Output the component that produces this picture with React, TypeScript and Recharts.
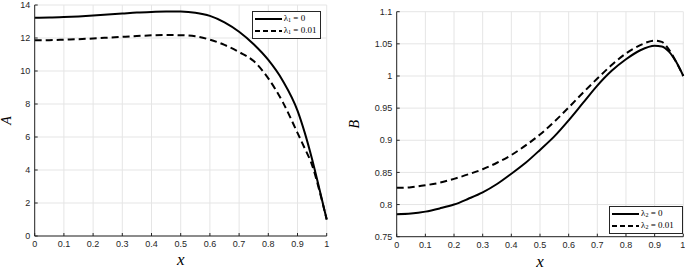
import React from "react";
import { LineChart, Line, XAxis, YAxis, CartesianGrid, Legend } from "recharts";

// sample positions along x
const xs = [0, 0.05, 0.1, 0.15, 0.2, 0.25, 0.3, 0.35, 0.4, 0.45, 0.5, 0.55, 0.6, 0.65, 0.7, 0.75, 0.8, 0.85, 0.9, 0.925, 0.95, 0.975, 1];

// A(x), lambda1 = 0 and lambda1 = 0.01
const aZero = [13.23, 13.24, 13.27, 13.31, 13.36, 13.42, 13.48, 13.54, 13.58, 13.61, 13.6, 13.53, 13.34, 12.95, 12.38, 11.62, 10.67, 9.4, 7.6, 6.25, 4.65, 2.85, 1.0];
const aSmall = [11.86, 11.87, 11.9, 11.93, 11.97, 12.02, 12.07, 12.12, 12.16, 12.18, 12.17, 12.1, 11.9, 11.58, 11.15, 10.6, 9.55, 8.1, 6.25, 5.3, 4.3, 2.75, 1.0];

// B(x), lambda2 = 0 and lambda2 = 0.01
const bZero = [0.785, 0.786, 0.789, 0.794, 0.8, 0.809, 0.819, 0.832, 0.848, 0.865, 0.885, 0.906, 0.931, 0.958, 0.985, 1.008, 1.026, 1.04, 1.047, 1.046, 1.038, 1.022, 1.0];
const bSmall = [0.826, 0.827, 0.83, 0.834, 0.84, 0.847, 0.855, 0.865, 0.877, 0.892, 0.909, 0.929, 0.951, 0.974, 0.996, 1.017, 1.035, 1.048, 1.055, 1.053, 1.041, 1.022, 1.0];

const xTicks = [0, 0.1, 0.2, 0.3, 0.4, 0.5, 0.6, 0.7, 0.8, 0.9, 1];
const aTicks = [0, 2, 4, 6, 8, 10, 12, 14];
const bTicks = [0.75, 0.8, 0.85, 0.9, 0.95, 1, 1.05, 1.1];

const aLegend = ["1", "1"];
const bLegend = ["2", "2"];
const legendValues = ["0", "0.01"];

const dataA = xs.map((x, i) => ({ x, zero: aZero[i], small: aSmall[i] }));
const dataB = xs.map((x, i) => ({ x, zero: bZero[i], small: bSmall[i] }));

const ink = "#262626";
const tickStyle = { fontFamily: '"Liberation Sans", Arial, sans-serif', fontSize: 9, fill: ink };
const serif = '"Liberation Serif", "Times New Roman", serif';

const LegendBox = ({ subs, width }: { subs: string[]; width: number }) => (
  <div
    style={{
      width,
      boxSizing: "border-box",
      border: `1px solid ${ink}`,
      background: "#fff",
      padding: "1px 2px",
      fontFamily: serif,
      fontSize: 9,
      lineHeight: "10px",
      color: "#000",
    }}
  >
    {legendValues.map((v, i) => (
      <div key={i} style={{ display: "flex", alignItems: "center", whiteSpace: "nowrap" }}>
        <svg width={27} height={6} style={{ flex: "none" }}>
          <line x1={0} y1={3} x2={27} y2={3} stroke="#000" strokeWidth={2} strokeDasharray={i ? "5 3" : undefined} />
        </svg>
        <span style={{ marginLeft: 2 }}>
          λ<sub style={{ fontSize: 6, verticalAlign: "-1px" }}>{subs[i]}</sub> = {v}
        </span>
      </div>
    ))}
  </div>
);

const yLabel = (text: string, dx: number) => (props: any) => {
  const vb = props.viewBox;
  const x = vb.x + dx;
  const y = vb.y + vb.height / 2;
  return (
    <text x={x} y={y} transform={`rotate(-90 ${x} ${y})`} textAnchor="middle" fontFamily={serif} fontStyle="italic" fontSize={14} fill="#000">
      {text}
    </text>
  );
};

const xLabel = (dy: number) => (props: any) => {
  const vb = props.viewBox;
  return (
    <text x={vb.x + vb.width / 2} y={vb.y + dy} textAnchor="middle" fontFamily={serif} fontStyle="italic" fontSize={17} fill="#000">
      x
    </text>
  );
};

const fmt = (v: number) => String(v);

export default function App() {
  return (
    <div style={{ position: "absolute", left: 0, top: 0, width: 685, height: 270, background: "#fff" }}>
      <div style={{ position: "absolute", left: 0, top: 0 }}>
        <LineChart width={340} height={270} data={dataA} margin={{ top: 5, right: 13.3, left: 4.7, bottom: 0 }}>
          <CartesianGrid stroke="#e5e5e5" />
          <XAxis
            dataKey="x"
            type="number"
            domain={[0, 1]}
            ticks={xTicks}
            tickFormatter={fmt}
            height={34}
            tick={tickStyle}
            tickSize={-3}
            tickMargin={8}
            stroke={ink}
            label={xLabel(28.5)}
          />
          <YAxis
            type="number"
            domain={[0, 14]}
            ticks={aTicks}
            width={30}
            tick={tickStyle}
            tickSize={-3}
            tickMargin={7.5}
            stroke={ink}
            label={yLabel("A", 6.5)}
          />
          <Line dataKey="zero" type="monotone" stroke="#000" strokeWidth={2} dot={false} isAnimationActive={false} />
          <Line dataKey="small" type="monotone" stroke="#000" strokeWidth={2} strokeDasharray="7 4" dot={false} isAnimationActive={false} />
          <Legend
            verticalAlign="middle"
            align="center"
            wrapperStyle={{ left: 251.7, top: 11, width: "auto" }}
            content={() => <LegendBox subs={aLegend} width={69} />}
          />
        </LineChart>
      </div>
      <div style={{ position: "absolute", left: 345, top: 0 }}>
        <LineChart width={340} height={270} data={dataB} margin={{ top: 11.7, right: 1.7, left: 21.7, bottom: 0 }}>
          <CartesianGrid stroke="#e5e5e5" />
          <XAxis
            dataKey="x"
            type="number"
            domain={[0, 1]}
            ticks={xTicks}
            tickFormatter={fmt}
            height={33.3}
            tick={tickStyle}
            tickSize={-3}
            tickMargin={8}
            stroke={ink}
            label={xLabel(30.5)}
          />
          <YAxis
            type="number"
            domain={[0.75, 1.1]}
            ticks={bTicks}
            tickFormatter={fmt}
            width={30}
            tick={tickStyle}
            tickSize={-3}
            tickMargin={7.5}
            stroke={ink}
            label={yLabel("B", -7.2)}
          />
          <Line dataKey="zero" type="monotone" stroke="#000" strokeWidth={2} dot={false} isAnimationActive={false} />
          <Line dataKey="small" type="monotone" stroke="#000" strokeWidth={2} strokeDasharray="7 4" dot={false} isAnimationActive={false} />
          <Legend
            verticalAlign="middle"
            align="center"
            wrapperStyle={{ left: 264, top: 205.7, width: "auto" }}
            content={() => <LegendBox subs={bLegend} width={74} />}
          />
        </LineChart>
      </div>
    </div>
  );
}
